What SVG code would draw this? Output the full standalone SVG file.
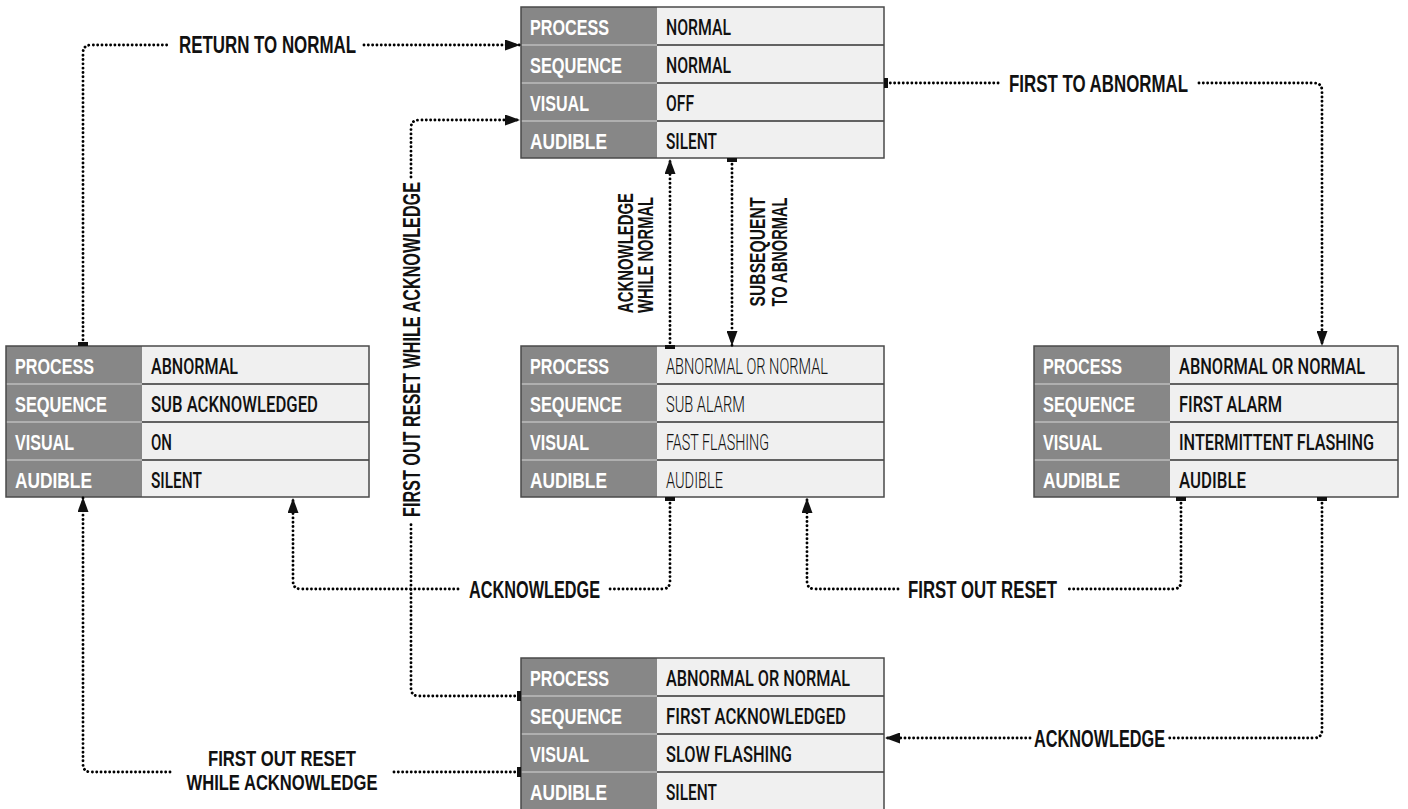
<svg xmlns="http://www.w3.org/2000/svg" width="1408" height="809" viewBox="0 0 1408 809">
<style>
.bg{fill:#ffffff}
.lc{fill:#878787}
.vc{fill:#f0f0f0}
.frame{fill:none;stroke:#4a4a4a;stroke-width:1.5}
.lsep{stroke:#d8d8d8;stroke-width:1.2}
.vsep{stroke:#333;stroke-width:1.3}
.lbl{font-family:"Liberation Sans",Arial,sans-serif;font-weight:bold;font-size:22px;fill:#fff}
.val{font-family:Roboto,"Liberation Sans",sans-serif;font-weight:500;font-size:22.5px;fill:#111}
.thin{font-weight:300}
.cl{font-family:"Liberation Sans",Arial,sans-serif;font-weight:bold;font-size:24px;fill:#111}
.con{fill:none;stroke:#000;stroke-width:2.9;stroke-dasharray:0.01 4.3;stroke-linecap:round}
.s{marker-start:url(#tick)}
.e{marker-end:url(#arrow)}
</style>
<defs>
<marker id="arrow" viewBox="0 0 15 11" refX="15" refY="5.5" markerWidth="15" markerHeight="11" markerUnits="userSpaceOnUse" orient="auto"><path d="M0,0 L15,5.5 L0,11 Z" fill="#111"/></marker>
<marker id="tick" viewBox="0 0 4 10" refX="2" refY="5" markerWidth="4" markerHeight="10" markerUnits="userSpaceOnUse" orient="auto"><rect width="4" height="10" fill="#111"/></marker>
</defs>
<rect class="bg" x="0" y="0" width="1408" height="809"/>

<g id="node-normal">
<rect class="lc" x="521" y="7" width="136" height="151"/>
<rect class="vc" x="657" y="7" width="227" height="151"/>
<line class="lsep" x1="521" y1="45" x2="657" y2="45"/><line class="lsep" x1="521" y1="83" x2="657" y2="83"/><line class="lsep" x1="521" y1="121" x2="657" y2="121"/>
<line class="vsep" x1="657" y1="45" x2="884" y2="45"/><line class="vsep" x1="657" y1="83" x2="884" y2="83"/><line class="vsep" x1="657" y1="121" x2="884" y2="121"/>
<rect class="frame" x="521" y="7" width="363" height="151"/>
<text class="lbl" x="530" y="35" textLength="79" lengthAdjust="spacingAndGlyphs">PROCESS</text>
<text class="lbl" x="530" y="73" textLength="92" lengthAdjust="spacingAndGlyphs">SEQUENCE</text>
<text class="lbl" x="530" y="111" textLength="59" lengthAdjust="spacingAndGlyphs">VISUAL</text>
<text class="lbl" x="530" y="149" textLength="77" lengthAdjust="spacingAndGlyphs">AUDIBLE</text>
<text class="val" x="666" y="35" textLength="65" lengthAdjust="spacingAndGlyphs">NORMAL</text>
<text class="val" x="666" y="73" textLength="65" lengthAdjust="spacingAndGlyphs">NORMAL</text>
<text class="val" x="666" y="111" textLength="28" lengthAdjust="spacingAndGlyphs">OFF</text>
<text class="val" x="666" y="149" textLength="51" lengthAdjust="spacingAndGlyphs">SILENT</text>
</g>

<g id="node-sub-acknowledged">
<rect class="lc" x="6" y="346" width="136" height="151"/>
<rect class="vc" x="142" y="346" width="227" height="151"/>
<line class="lsep" x1="6" y1="384" x2="142" y2="384"/><line class="lsep" x1="6" y1="422" x2="142" y2="422"/><line class="lsep" x1="6" y1="460" x2="142" y2="460"/>
<line class="vsep" x1="142" y1="384" x2="369" y2="384"/><line class="vsep" x1="142" y1="422" x2="369" y2="422"/><line class="vsep" x1="142" y1="460" x2="369" y2="460"/>
<rect class="frame" x="6" y="346" width="363" height="151"/>
<text class="lbl" x="15" y="374" textLength="79" lengthAdjust="spacingAndGlyphs">PROCESS</text>
<text class="lbl" x="15" y="412" textLength="92" lengthAdjust="spacingAndGlyphs">SEQUENCE</text>
<text class="lbl" x="15" y="450" textLength="59" lengthAdjust="spacingAndGlyphs">VISUAL</text>
<text class="lbl" x="15" y="488" textLength="77" lengthAdjust="spacingAndGlyphs">AUDIBLE</text>
<text class="val" x="151" y="374" textLength="87" lengthAdjust="spacingAndGlyphs">ABNORMAL</text>
<text class="val" x="151" y="412" textLength="167" lengthAdjust="spacingAndGlyphs">SUB ACKNOWLEDGED</text>
<text class="val" x="151" y="450" textLength="21" lengthAdjust="spacingAndGlyphs">ON</text>
<text class="val" x="151" y="488" textLength="51" lengthAdjust="spacingAndGlyphs">SILENT</text>
</g>

<g id="node-sub-alarm">
<rect class="lc" x="521" y="346" width="136" height="151"/>
<rect class="vc" x="657" y="346" width="227" height="151"/>
<line class="lsep" x1="521" y1="384" x2="657" y2="384"/><line class="lsep" x1="521" y1="422" x2="657" y2="422"/><line class="lsep" x1="521" y1="460" x2="657" y2="460"/>
<line class="vsep" x1="657" y1="384" x2="884" y2="384"/><line class="vsep" x1="657" y1="422" x2="884" y2="422"/><line class="vsep" x1="657" y1="460" x2="884" y2="460"/>
<rect class="frame" x="521" y="346" width="363" height="151"/>
<text class="lbl" x="530" y="374" textLength="79" lengthAdjust="spacingAndGlyphs">PROCESS</text>
<text class="lbl" x="530" y="412" textLength="92" lengthAdjust="spacingAndGlyphs">SEQUENCE</text>
<text class="lbl" x="530" y="450" textLength="59" lengthAdjust="spacingAndGlyphs">VISUAL</text>
<text class="lbl" x="530" y="488" textLength="77" lengthAdjust="spacingAndGlyphs">AUDIBLE</text>
<text class="val thin" x="666" y="374" textLength="162" lengthAdjust="spacingAndGlyphs">ABNORMAL OR NORMAL</text>
<text class="val thin" x="666" y="412" textLength="79" lengthAdjust="spacingAndGlyphs">SUB ALARM</text>
<text class="val thin" x="666" y="450" textLength="103" lengthAdjust="spacingAndGlyphs">FAST FLASHING</text>
<text class="val thin" x="666" y="488" textLength="57" lengthAdjust="spacingAndGlyphs">AUDIBLE</text>
</g>

<g id="node-first-alarm">
<rect class="lc" x="1034" y="346" width="136" height="151"/>
<rect class="vc" x="1170" y="346" width="228" height="151"/>
<line class="lsep" x1="1034" y1="384" x2="1170" y2="384"/><line class="lsep" x1="1034" y1="422" x2="1170" y2="422"/><line class="lsep" x1="1034" y1="460" x2="1170" y2="460"/>
<line class="vsep" x1="1170" y1="384" x2="1398" y2="384"/><line class="vsep" x1="1170" y1="422" x2="1398" y2="422"/><line class="vsep" x1="1170" y1="460" x2="1398" y2="460"/>
<rect class="frame" x="1034" y="346" width="364" height="151"/>
<text class="lbl" x="1043" y="374" textLength="79" lengthAdjust="spacingAndGlyphs">PROCESS</text>
<text class="lbl" x="1043" y="412" textLength="92" lengthAdjust="spacingAndGlyphs">SEQUENCE</text>
<text class="lbl" x="1043" y="450" textLength="59" lengthAdjust="spacingAndGlyphs">VISUAL</text>
<text class="lbl" x="1043" y="488" textLength="77" lengthAdjust="spacingAndGlyphs">AUDIBLE</text>
<text class="val" transform="translate(1179,374) scale(0.75,1)" textLength="248" lengthAdjust="spacingAndGlyphs">ABNORMAL OR NORMAL</text>
<text class="val" x="1179" y="412" textLength="103" lengthAdjust="spacingAndGlyphs">FIRST ALARM</text>
<text class="val" transform="translate(1179,450) scale(0.75,1)" textLength="260" lengthAdjust="spacingAndGlyphs">INTERMITTENT FLASHING</text>
<text class="val" x="1179" y="488" textLength="67" lengthAdjust="spacingAndGlyphs">AUDIBLE</text>
</g>

<g id="node-first-acknowledged">
<rect class="lc" x="521" y="658" width="136" height="152"/>
<rect class="vc" x="657" y="658" width="227" height="152"/>
<line class="lsep" x1="521" y1="696" x2="657" y2="696"/><line class="lsep" x1="521" y1="734" x2="657" y2="734"/><line class="lsep" x1="521" y1="772" x2="657" y2="772"/>
<line class="vsep" x1="657" y1="696" x2="884" y2="696"/><line class="vsep" x1="657" y1="734" x2="884" y2="734"/><line class="vsep" x1="657" y1="772" x2="884" y2="772"/>
<rect class="frame" x="521" y="658" width="363" height="152"/>
<text class="lbl" x="530" y="686" textLength="79" lengthAdjust="spacingAndGlyphs">PROCESS</text>
<text class="lbl" x="530" y="724" textLength="92" lengthAdjust="spacingAndGlyphs">SEQUENCE</text>
<text class="lbl" x="530" y="762" textLength="59" lengthAdjust="spacingAndGlyphs">VISUAL</text>
<text class="lbl" x="530" y="800" textLength="77" lengthAdjust="spacingAndGlyphs">AUDIBLE</text>
<text class="val" x="666" y="686" textLength="184" lengthAdjust="spacingAndGlyphs">ABNORMAL OR NORMAL</text>
<text class="val" x="666" y="724" textLength="180" lengthAdjust="spacingAndGlyphs">FIRST ACKNOWLEDGED</text>
<text class="val" x="666" y="762" textLength="126" lengthAdjust="spacingAndGlyphs">SLOW FLASHING</text>
<text class="val" x="666" y="800" textLength="51" lengthAdjust="spacingAndGlyphs">SILENT</text>
</g>

<g id="connectors">
<g id="c-return-to-normal">
<path class="con s" d="M83,344 V53 Q83,45 91,45 H170"/>
<path class="con e" d="M364,45 H520"/>
<text class="cl" x="179" y="53" textLength="177" lengthAdjust="spacingAndGlyphs">RETURN TO NORMAL</text>
</g>
<g id="c-first-to-abnormal">
<path class="con s" d="M886,83 H1000"/>
<path class="con e" d="M1199,83 H1314 Q1322,83 1322,91 V346"/>
<text class="cl" x="1009" y="92" textLength="179" lengthAdjust="spacingAndGlyphs">FIRST TO ABNORMAL</text>
</g>
<g id="c-ack-while-normal">
<path class="con s e" d="M670,347 V159"/>
<text class="cl" style="font-size:22px" transform="translate(633,253) rotate(-90)" text-anchor="middle" textLength="120" lengthAdjust="spacingAndGlyphs">ACKNOWLEDGE</text>
<text class="cl" style="font-size:22px" transform="translate(653,255) rotate(-90)" text-anchor="middle" textLength="116" lengthAdjust="spacingAndGlyphs">WHILE NORMAL</text>
</g>
<g id="c-subsequent">
<path class="con s e" d="M732,160 V346"/>
<text class="cl" style="font-size:22px" transform="translate(765,252) rotate(-90)" text-anchor="middle" textLength="109" lengthAdjust="spacingAndGlyphs">SUBSEQUENT</text>
<text class="cl" style="font-size:22px" transform="translate(787,252) rotate(-90)" text-anchor="middle" textLength="109" lengthAdjust="spacingAndGlyphs">TO ABNORMAL</text>
</g>
<g id="c-for-while-ack-top">
<path class="con s" d="M519,696 H419 Q411,696 411,688 V523"/>
<path class="con e" d="M411,177 V128 Q411,120 419,120 H520"/>
<text class="cl" transform="translate(420,517) rotate(-90)" textLength="335" lengthAdjust="spacingAndGlyphs">FIRST OUT RESET WHILE ACKNOWLEDGE</text>
</g>
<g id="c-for-while-ack-bottom">
<path class="con s" d="M519,772 H393"/>
<path class="con e" d="M170,772 H91 Q83,772 83,764 V497"/>
<text class="cl" style="font-size:22.5px" x="282" y="766" text-anchor="middle" textLength="148" lengthAdjust="spacingAndGlyphs">FIRST OUT RESET</text>
<text class="cl" style="font-size:22.5px" x="282" y="790" text-anchor="middle" textLength="191" lengthAdjust="spacingAndGlyphs">WHILE ACKNOWLEDGE</text>
</g>
<g id="c-acknowledge-mid">
<path class="con s" d="M670,499 V581 Q670,589 662,589 H610"/>
<path class="con e" d="M458,589 H301 Q293,589 293,581 V498"/>
<text class="cl" x="469" y="598" textLength="131" lengthAdjust="spacingAndGlyphs">ACKNOWLEDGE</text>
</g>
<g id="c-first-out-reset">
<path class="con s" d="M1181,499 V581 Q1181,589 1173,589 H1066"/>
<path class="con e" d="M898,589 H815 Q807,589 807,581 V498"/>
<text class="cl" x="908" y="598" textLength="149" lengthAdjust="spacingAndGlyphs">FIRST OUT RESET</text>
</g>
<g id="c-acknowledge-right">
<path class="con s" d="M1322,499 V730 Q1322,738 1314,738 H1168"/>
<path class="con e" d="M1030,738 H885"/>
<text class="cl" x="1034" y="747" textLength="131" lengthAdjust="spacingAndGlyphs">ACKNOWLEDGE</text>
</g>
</g>
</svg>
